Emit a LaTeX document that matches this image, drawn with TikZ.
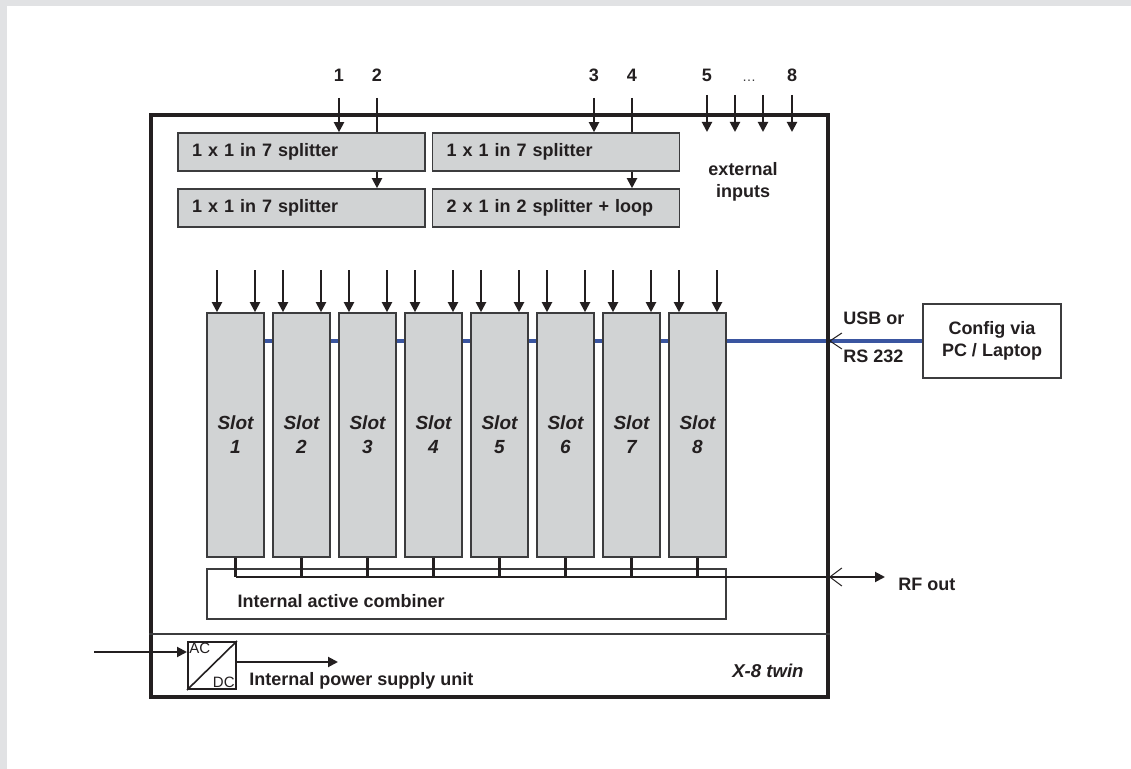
\documentclass[tikz,border=0pt]{standalone}
\usepackage{fontspec}
\setmainfont{Liberation Sans}
\usetikzlibrary{arrows.meta,backgrounds}
\definecolor{boxgrey}{RGB}{209,211,212}
\definecolor{linegrey}{RGB}{60,60,62}
\definecolor{inkdark}{RGB}{35,31,32}
\definecolor{usbblue}{RGB}{58,85,160}
\definecolor{pagegrey}{RGB}{225,226,228}
\begin{document}
\begin{tikzpicture}[x=0.5pt,y=-0.5pt,
  font=\fontsize{9}{10.8}\selectfont\bfseries, text=inkdark,
  splitbox/.style={draw=linegrey, line width=0.8pt, fill=boxgrey, minimum height=19pt,
    text width=109.5pt, inner xsep=7pt, inner ysep=0pt, align=left},
  slotbox/.style={draw=linegrey, line width=0.8pt, fill=boxgrey, minimum width=28.5pt,
    minimum height=122pt, inner sep=0pt, align=center,
    font=\fontsize{9.5}{12}\selectfont\bfseries\itshape},
  feed/.style={draw=inkdark, line width=1pt, -{Triangle[length=5pt,width=5pt]}},
  wire/.style={draw=inkdark, line width=1.1pt},
  barb/.style={draw=inkdark, line width=0.5pt},
  usb/.style={draw=usbblue, line width=1.6pt},
  tag/.style={inner sep=0pt}]
\useasboundingbox (0,0) rectangle (1131,769);

% housing
\node[draw=inkdark, line width=1.9pt, minimum width=338.5pt, minimum height=291pt, inner sep=0pt] (unit) at (489.5,406) {};
\draw[draw=linegrey, line width=0.8pt] (unit.west |- 0,634) -- (unit.east |- 0,634);

% splitters
\node[splitbox] (splA) at (301.5,152) {1 x 1 in 7 splitter};
\node[splitbox] (splB) at (301.5,208) {1 x 1 in 7 splitter};
\node[splitbox] (splC) at (556,152) {1 x 1 in 7 splitter};
\node[splitbox] (splD) at (556,208) {2 x 1 in 2 splitter + loop};

\node[tag, anchor=base] (in1) at (339,82) {1};
\node[tag, anchor=base] (in2) at (377,82) {2};
\node[tag, anchor=base] (in3) at (594,82) {3};
\node[tag, anchor=base] (in4) at (632,82) {4};
\draw[feed] ([yshift=-8pt]in1.base) -- (in1.base |- splA.north);
\draw[wire] ([yshift=-8pt]in2.base) -- (in2.base |- splA.north);
\draw[feed] (in2.base |- splA.south) -- (in2.base |- splB.north);
\draw[feed] ([yshift=-8pt]in3.base) -- (in3.base |- splC.north);
\draw[wire] ([yshift=-8pt]in4.base) -- (in4.base |- splC.north);
\draw[feed] (in4.base |- splC.south) -- (in4.base |- splD.north);

% external inputs
\node[tag, anchor=base] (in5) at (707,82) {5};
\node[tag, anchor=base, font=\fontsize{7}{8}\selectfont, text=linegrey] (dots) at (749,82) {\textellipsis};
\node[tag, anchor=base] (in8) at (792,82) {8};
\foreach \xx [count=\k] in {707,735,763,792} {
  \coordinate (top\k) at (\xx,95);
  \coordinate (ext\k) at (\xx,132);
  \draw[feed] (top\k) -- (ext\k);
}
\node[align=center, inner sep=0pt] (extlbl) at (743,182) {external\\inputs};

% slots
\foreach \i in {1,...,8}
  \node[slotbox] (s\i) at ({235.5+66*(\i-1)},435) {Slot\\\i};
\foreach \i in {1,...,8} {
  \draw[feed] ([xshift=-9.25pt,yshift=21pt]s\i.north) -- ([xshift=-9.25pt]s\i.north);
  \draw[feed] ([xshift=9.75pt,yshift=21pt]s\i.north) -- ([xshift=9.75pt]s\i.north);
}

% config link
\node[draw=linegrey, line width=0.8pt, fill=white, minimum width=69pt, minimum height=37pt,
  align=center, inner sep=0pt] (cfg) at (992,341) {Config via\\PC / Laptop};
\node[tag, anchor=base west] (usbor) at (843,325) {USB or};
\node[tag, anchor=base west] (rs) at (843,363) {RS 232};
\coordinate (usbin) at (unit.east |- cfg.west);
\draw[barb] ([xshift=6pt,yshift=4pt]usbin) -- (usbin) -- ([xshift=6pt,yshift=-4pt]usbin);

% combiner
\node[draw=linegrey, line width=0.8pt, minimum width=259.5pt, minimum height=25pt, inner sep=0pt] (comb) at (466.5,594) {};
\node[tag, anchor=west] (combtxt) at ([xshift=15.5pt,yshift=-3.5pt]comb.west) {Internal active combiner};
\coordinate (rftip) at (885,577);
\foreach \i in {1,...,8}
  \draw[wire] (s\i.south) -- (s\i.south |- rftip);
\draw[feed] (s1.south |- rftip) -- (rftip);
\node[tag, anchor=base west] (rfout) at (898,591) {RF out};
\coordinate (rfpass) at (unit.east |- rftip);
\draw[barb] ([xshift=6pt,yshift=4.5pt]rfpass) -- (rfpass) -- ([xshift=6pt,yshift=-4.5pt]rfpass);

% power supply
\node[draw=inkdark, line width=1pt, minimum width=24pt, minimum height=23.5pt, inner sep=0pt] (acdc) at (212,665.5) {};
\draw[draw=inkdark, line width=0.8pt] (acdc.south west) -- (acdc.north east);
\node[anchor=north west, inner sep=1pt, font=\fontsize{7.5}{7.5}\selectfont] (ac) at (acdc.north west) {AC};
\node[anchor=south east, inner sep=1pt, font=\fontsize{7.5}{7.5}\selectfont] (dc) at (acdc.south east) {DC};
\coordinate (mains) at (94,652);
\draw[feed] (mains) -- (mains -| acdc.west);
\coordinate (psuout) at (338,662);
\draw[feed] (psuout -| acdc.east) -- (psuout);
\node[tag, anchor=base west] (psu) at (249,686) {Internal power supply unit};
\node[tag, anchor=base east, font=\fontsize{9.3}{10.8}\selectfont\bfseries\itshape] (model) at (804,678) {X-8 twin};

\begin{scope}[on background layer]
  \fill[pagegrey] (0,0) rectangle (1131,769);
  \fill[white] (7,6) rectangle (1131,769);
  \draw[usb] (cfg.west) -- (cfg.west -| s1.east);
\end{scope}
\end{tikzpicture}
\end{document}
